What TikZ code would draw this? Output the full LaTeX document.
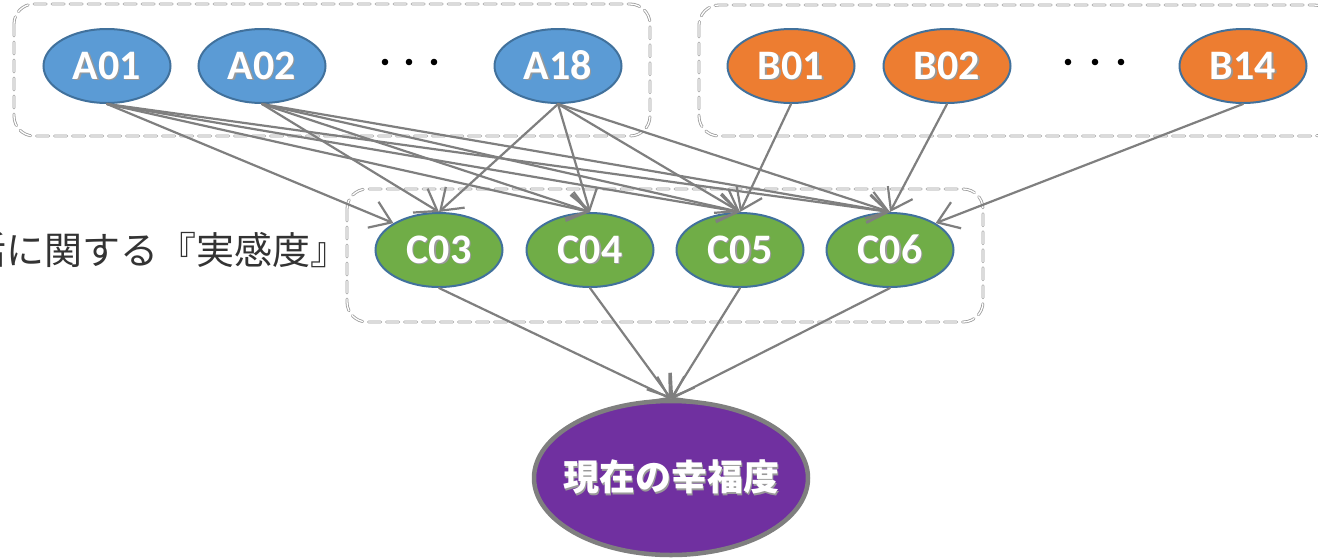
\documentclass[tikz,border=0pt]{standalone}
\usepackage{fontspec}
\usepackage{xcolor}
\usepackage{tikz}
\usetikzlibrary{shapes.geometric,arrows.meta}
\newfontfamily\labfont{Carlito}
\newfontfamily\jpfont{Noto Sans CJK JP}
\definecolor{fillA}{HTML}{5B9BD5}
\definecolor{fillB}{HTML}{ED7D31}
\definecolor{fillC}{HTML}{70AD47}
\definecolor{fillD}{HTML}{7030A0}
\definecolor{rim}{HTML}{41719C}
\definecolor{wire}{HTML}{7F7F7F}
\definecolor{frame}{HTML}{999999}
% white label with a soft drop shadow
\newcommand{\shd}[1]{\rlap{\kern1.2pt\raisebox{-1.2pt}{\textcolor{black!40}{#1}}}#1}

\begin{document}
\begin{tikzpicture}[x=1pt,y=-1pt,line cap=round,
  item/.style={ellipse,draw=rim,line width=2pt,minimum width=127pt,minimum height=74pt,
    inner sep=0pt,text=white,font=\labfont\bfseries\fontsize{42}{42}\selectfont},
  goal/.style={ellipse,draw=wire,line width=4.5pt,fill=fillD,minimum width=274pt,minimum height=154pt,
    inner sep=0pt,text=white,font=\jpfont\bfseries\fontsize{36}{36}\selectfont},
  wired/.style={draw=wire,line width=2.2pt,-{Straight Barb[length=20pt,width=28pt]}},
  group/.style={draw=frame,line width=0.8pt,double=white,double distance=1.3pt,
    dash pattern=on 12pt off 6pt,rounded corners=20pt}]
  \useasboundingbox (0,0) rectangle (1318,558);

  % groups
  \draw[group] (14,4) rectangle (650,136);
  \draw[group] (699,5) rectangle (1334,136);
  \draw[group] (347,189) rectangle (983,322);

  % first row
  \node[item,fill=fillA] (a01) at (107,66) {\shd{A01}};
  \node[item,fill=fillA] (a02) at (262,66) {\shd{A02}};
  \node[item,fill=fillA] (a18) at (558,66) {\shd{A18}};
  \node[item,fill=fillB] (b01) at (791,66) {\shd{B01}};
  \node[item,fill=fillB] (b02) at (947,66) {\shd{B02}};
  \node[item,fill=fillB] (b14) at (1243,66) {\shd{B14}};
  \foreach \x in {385,409,434,1068,1095,1121}
    \fill (\x,62) circle (3.3);

  % second row
  \node[item,fill=fillC] (c03) at (439,250) {\shd{C03}};
  \node[item,fill=fillC] (c04) at (590,250) {\shd{C04}};
  \node[item,fill=fillC] (c05) at (740,250) {\shd{C05}};
  \node[item,fill=fillC] (c06) at (890,250) {\shd{C06}};
  \node[anchor=east,font=\jpfont\fontsize{38}{38}\selectfont,text=black!80] (title) at (352,250)
    {活に関する『実感度』};

  % target
  \node[goal] (goal) at (671,478) {\makebox[0pt]{\shd{現在の幸福度}}};

  % links
  \draw[wired] (a01.south) -- (c03.north west);
  \foreach \c in {c04,c05,c06}
    \draw[wired] (a01.south) -- (\c.north);
  \foreach \a in {a02,a18}{
    \foreach \c in {c03,c04,c05,c06}
      \draw[wired] (\a.south) -- (\c.north);
  }
  \draw[wired] (b01.south) -- (c05.north);
  \draw[wired] (b02.south) -- (c06.north);
  \draw[wired] (b14.south) -- (c06.north east);
  \foreach \c in {c03,c04,c05,c06}
    \draw[wired] (\c.south) -- (goal.north);
\end{tikzpicture}
\end{document}
